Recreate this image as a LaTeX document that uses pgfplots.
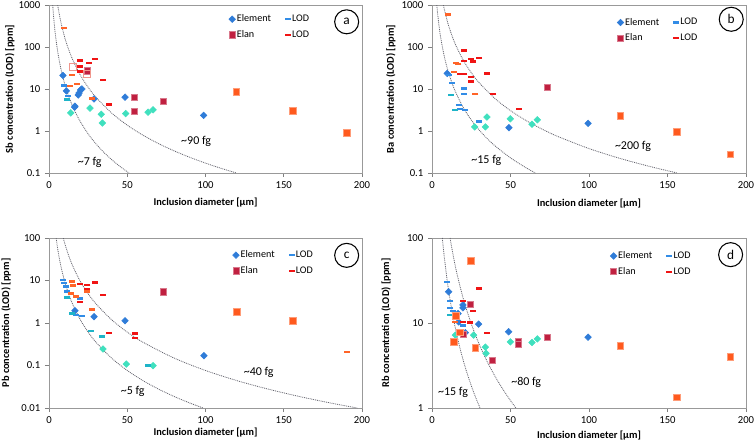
\documentclass[border=0pt]{standalone}
\usepackage{fontspec}
\setmainfont{Carlito}
\usepackage{pgfplots}
\pgfplotsset{compat=1.18}
\definecolor{elemblue}{RGB}{47,124,216}
\definecolor{elemcyan}{RGB}{64,224,190}
\definecolor{lodblue}{RGB}{50,140,230}
\definecolor{lodcyan}{RGB}{30,180,200}
\definecolor{elanred}{RGB}{192,32,64}
\definecolor{elanorange}{RGB}{255,90,30}
\definecolor{lodred}{RGB}{240,20,20}
\definecolor{lodorange}{RGB}{255,100,40}
\definecolor{pinkhollow}{RGB}{240,150,140}
\definecolor{curvegray}{RGB}{100,100,110}
\pgfplotsset{
 legend image code/.code={\draw[mark repeat=2,mark phase=2,#1] plot coordinates {(0cm,0cm) (0.15cm,0cm) (0.3cm,0cm)};},
 every axis/.append style={scale only axis, xmin=0, xmax=200,
   xtick={0,50,100,150,200}, xticklabels={0,50,100,150,200},
   axis line style={gray!80}, tick style={gray, thin},
   tick align=outside, tick pos=left, major tick length=3pt,
   ticklabel style={font=\fontsize{8}{9}\selectfont},
   label style={font=\bfseries\fontsize{7.8}{9}\selectfont},
   xlabel={Inclusion diameter [µm]},
   legend columns=2, legend cell align=left,
   legend style={anchor=north west, draw=none, fill=none, inner sep=0pt,
     nodes={inner sep=1pt}, font=\fontsize{7.6}{9}\selectfont, row sep=3pt,
     /tikz/every even column/.append style={column sep=9.5pt}},
 },
 curve/.style={forget plot, smooth, no marks, color=curvegray, line width=0.6pt, dash pattern=on 0.7pt off 0.7pt},
 elemS/.style={only marks, mark=square*, mark size=1.75pt, mark options={rotate=45}, color=elemblue},
 elemC/.style={only marks, mark=square*, mark size=1.75pt, mark options={rotate=45}, color=elemcyan, forget plot},
 lodB/.style={only marks, mark=-, mark size=2.2pt, line width=1.8pt, color=lodblue},
 lodC/.style={only marks, mark=-, mark size=2.2pt, line width=1.8pt, color=lodcyan, forget plot},
 elanS/.style={only marks, mark=square*, mark size=2.3pt, color=elanred, mark options={draw=elanred!60!white, line width=0.5pt}},
 elanO/.style={only marks, mark=square*, mark size=2.5pt, color=elanorange, mark options={draw=elanorange!60!white, line width=0.5pt}, forget plot},
 lodR/.style={only marks, mark=-, mark size=2.2pt, line width=1.8pt, color=lodred},
 lodO/.style={only marks, mark=-, mark size=2.2pt, line width=1.8pt, color=lodorange, forget plot},
 hollowP/.style={only marks, mark=square, mark size=2.6pt, color=pinkhollow, line width=0.8pt, forget plot},
}
\newcommand{\fgtext}{\fontsize{9}{10}\selectfont}
\newcommand{\circlab}[2]{\node[draw, circle, minimum size=18pt, inner sep=0pt, line width=0.8pt, font=\fontsize{10}{12}\selectfont] at (axis description cs:#1) {#2};}
\begin{document}
\begin{tikzpicture}
\path[use as bounding box] (0,0) rectangle (567pt,333pt);
% ---------------- panel a ----------------
\begin{axis}[ymode=log, yminorticks=false, at={(36.75pt,203.25pt)}, anchor=south west, width=234.75pt, height=126pt,
  ymin=0.1, ymax=1000, ytick={0.1,1,10,100,1000}, yticklabels={0.1,1,10,100,1000},
  ylabel={Sb concentration (LOD) [ppm]},
  ylabel style={at={(axis description cs:-0.125,0.5)}, anchor=center},
  xlabel style={at={(axis description cs:0.5,-0.173)}, anchor=center},
  legend style={at={(axis description cs:0.574,0.952)}}]
\addplot[curve] coordinates {(2.373,1000) (2.5,855.6) (3,495.1) (3.5,311.8) (4,208.9) (5,106.95) (6,61.89) (7,38.98) (8,26.11) (10,13.37) (12,7.737) (15,3.961) (18,2.292) (20,1.671) (25,0.8556) (30,0.4951) (35,0.3118) (40,0.2089) (45,0.1467) (51.13,0.1)};
\addplot[curve] coordinates {(5.559,1000) (6,795.8) (7,501.1) (8,335.7) (10,171.9) (12,99.47) (15,50.93) (20,21.49) (25,11.0) (30,6.366) (40,2.686) (50,1.375) (60,0.7958) (70,0.5011) (80,0.3357) (90,0.2358) (100,0.1719) (110,0.1291) (119.8,0.1)};
\addplot[elemS] coordinates {(8.9,21) (11.1,9.0) (16.4,3.7) (16.6,3.9) (18.7,7.2) (19.2,8.0) (20.2,9.5) (21,10) (28.8,5.8) (48.6,6.4) (98.8,2.35)};
\addlegendentry{Element}
\addplot[lodB] coordinates {(9.6,12) (12.3,6.8)};
\addlegendentry{LOD}
\addplot[elanS] coordinates {(24.5,27) (54.7,6.4) (54.7,3.0) (73,5.2)};
\addlegendentry{Elan}
\addplot[lodR] coordinates {(19.6,48) (25.6,41) (29.4,52) (19.6,34) (19.6,26) (34.5,16.4) (38.3,4.3)};
\addlegendentry{LOD}
\addplot[elemC] coordinates {(13.9,2.7) (26.2,3.5) (33.4,2.5) (34.1,1.55) (49,2.6) (63.3,2.8) (66.5,3.2)};
\addplot[lodC] coordinates {(11.3,5.6)};
\addplot[elanO] coordinates {(119.7,8.5) (155.7,3.05) (190.2,0.9)};
\addplot[hollowP] coordinates {(15.4,33) (24.5,22.5)};
\addplot[lodO] coordinates {(9.4,280) (14.5,21.5) (13.4,11.8) (17.7,13) (27.7,5.9)};
\node[font=\fgtext] at (axis cs:26,0.18) {\textasciitilde7 fg};
\node[font=\fgtext] at (axis cs:94,0.56) {\textasciitilde90 fg};
\circlab{0.951,0.90}{a}
\end{axis}
% ---------------- panel b ----------------
\begin{axis}[ymode=log, yminorticks=false, at={(324pt,203.25pt)}, anchor=south west, width=235.5pt, height=126pt,
  ymin=0.1, ymax=1000, ytick={0.1,1,10,100,1000}, yticklabels={0.1,1,10,100,1000},
  ylabel={Ba concentration (LOD) [ppm]},
  ylabel style={at={(axis description cs:-0.131,0.5)}, anchor=center},
  xlabel style={at={(axis description cs:0.5,-0.179)}, anchor=center},
  legend style={at={(axis description cs:0.589,0.932)}}]
\addplot[curve] coordinates {(3.061,1000) (3.5,668.2) (4,447.6) (5,229.2) (6,132.6) (8,55.95) (10,28.65) (12,16.58) (15,8.488) (20,3.581) (25,1.833) (30,1.061) (35,0.6682) (40,0.4476) (50,0.2292) (60,0.1326) (65.9,0.1)};
\addplot[curve] coordinates {(7.256,1000) (8,746.0) (10,382.0) (12,221.0) (15,113.2) (20,47.75) (25,24.45) (30,14.15) (40,5.968) (50,3.056) (60,1.768) (70,1.114) (80,0.746) (100,0.382) (120,0.2211) (140,0.1392) (156.3,0.1)};
\addplot[elemS] coordinates {(9.7,23.5) (49,1.2) (99.4,1.52)};
\addlegendentry{Element}
\addplot[lodB] coordinates {(10.8,21.5) (12.7,14) (20.2,10.2) (20.2,7.6) (17.4,4.2) (17.6,3.3) (21.2,3.2) (29.7,1.7)};
\addlegendentry{LOD}
\addplot[elanS] coordinates {(73.5,11.2)};
\addlegendentry{Elan}
\addplot[lodR] coordinates {(20.2,82) (20.2,47) (25,51) (26.3,45) (30.1,54) (18,22.8) (20.6,22.8) (35,23.6) (25,19.6) (24.6,15) (38.9,7.5) (55.2,3.3)};
\addlegendentry{LOD}
\addplot[elemC] coordinates {(27.2,1.25) (34,1.25) (35,2.15) (49.9,1.95) (63.7,1.45) (67.1,1.85)};
\addplot[lodC] coordinates {(12.1,7.3) (14.9,3.2)};
\addplot[elanO] coordinates {(120,2.3) (155.8,0.97) (190,0.28)};
\addplot[lodO] coordinates {(10.2,590) (15.3,41) (16.8,40) (14.2,25) (27.6,7.5)};
\node[font=\fgtext] at (axis cs:34.6,0.2) {\textasciitilde15 fg};
\node[font=\fgtext] at (axis cs:128,0.42) {\textasciitilde200 fg};
\circlab{0.953,0.915}{b}
\end{axis}
% ---------------- panel c ----------------
\begin{axis}[ymode=log, yminorticks=false, at={(36.75pt,27pt)}, anchor=south west, width=234.75pt, height=127.5pt,
  ymin=0.01, ymax=100, ytick={0.01,0.1,1,10,100}, yticklabels={0.01,0.1,1,10,100},
  ylabel={Pb concentration (LOD) [ppm]},
  ylabel style={at={(axis description cs:-0.137,0.5)}, anchor=center},
  xlabel style={at={(axis description cs:0.5,-0.147)}, anchor=center},
  legend style={at={(axis description cs:0.586,0.935)}}]
\addplot[curve] coordinates {(4.571,100) (5,76.39) (6,44.21) (7,27.84) (8,18.65) (10,9.549) (12,5.526) (15,2.829) (20,1.194) (25,0.6111) (30,0.3537) (40,0.1492) (50,0.07639) (60,0.04421) (70,0.02784) (80,0.01865) (90,0.0131) (98.5,0.01)};
\addplot[curve] coordinates {(9.142,100) (10,76.39) (12,44.21) (15,22.64) (20,9.549) (25,4.889) (30,2.829) (40,1.194) (50,0.6111) (60,0.3537) (80,0.1492) (100,0.07639) (120,0.04421) (140,0.02784) (160,0.01865) (180,0.0131) (197,0.01)};
\addplot[elemS] coordinates {(16.6,1.95) (28.8,1.41) (48.6,1.13) (99,0.17)};
\addlegendentry{Element}
\addplot[lodB] coordinates {(8.9,10.3) (9.6,8.6) (10.6,7.2) (11.7,5.5) (19.6,3.8) (17,1.54) (20.9,1.46)};
\addlegendentry{LOD}
\addplot[elanS] coordinates {(73,5.4)};
\addlegendentry{Elan}
\addplot[lodR] coordinates {(19.6,8.3) (24.5,7.8) (24.5,6.3) (29.4,8.9) (34.5,4.6) (19.6,3.1) (38.3,0.59) (54.7,0.57) (54.7,0.45)};
\addlegendentry{LOD}
\addplot[elemC] coordinates {(34.5,0.244) (49.4,0.108) (66.5,0.099)};
\addplot[lodC] coordinates {(11.7,4.0) (14.9,1.69) (26.6,0.65) (33.7,0.48) (63.5,0.099)};
\addplot[elanO] coordinates {(120,1.8) (156,1.11)};
\addplot[lodO] coordinates {(14.5,9.4) (15.3,7.6) (24.5,5.5) (13.9,5.0) (17.5,4.2) (27.3,2.1) (190.2,0.21)};
\node[font=\fgtext] at (axis cs:53.5,0.025) {\textasciitilde5 fg};
\node[font=\fgtext] at (axis cs:134,0.067) {\textasciitilde40 fg};
\circlab{0.951,0.898}{c}
\end{axis}
% ---------------- panel d ----------------
\begin{axis}[ymode=log, yminorticks=false, at={(324pt,27pt)}, anchor=south west, width=235.5pt, height=127.5pt,
  ymin=1, ymax=100, ytick={1,10,100}, yticklabels={1,10,100},
  ylabel={Rb concentration (LOD) [ppm]},
  ylabel style={at={(axis description cs:-0.1465,0.5)}, anchor=center},
  xlabel style={at={(axis description cs:0.5,-0.159)}, anchor=center},
  legend style={at={(axis description cs:0.567,0.93)}}]
\addplot[curve] coordinates {(6.593,100) (7,83.52) (8,55.95) (10,28.65) (12,16.58) (15,8.488) (18,4.912) (20,3.581) (22,2.690) (25,1.833) (28,1.305) (30.6,1)};
\addplot[curve] coordinates {(11.52,100) (12,88.42) (14,55.68) (16,37.30) (20,19.10) (25,9.778) (30,5.659) (35,3.564) (40,2.387) (45,1.677) (50,1.222) (53.46,1)};
\addplot[elemS] coordinates {(10.6,23.3) (19.7,16.3) (19.7,15.1) (16.6,12.9) (17,10.3) (29.7,9.7) (21.2,7.7) (48.8,7.9) (99.4,6.8)};
\addlegendentry{Element}
\addplot[lodB] coordinates {(9.6,30.6) (11.7,18.1) (11.7,15.1) (13.2,13.8) (19.5,9.3)};
\addlegendentry{LOD}
\addplot[elanS] coordinates {(24.4,16.6) (19.7,7.3) (38.4,3.6) (54.8,6.0) (54.8,5.6) (73.2,6.8)};
\addlegendentry{Elan}
\addplot[lodR] coordinates {(29.7,25.6) (19.7,18.1) (25.9,13.8) (19.5,10.3) (24.4,10.1) (35,7.6)};
\addlegendentry{LOD}
\addplot[elemC] coordinates {(14.9,7.2) (26.5,7.2) (34,5.2) (34.4,4.4) (49.9,6.0) (63.7,5.9) (67.1,6.5)};
\addplot[lodC] coordinates {(11.7,12.4)};
\addplot[elanO] coordinates {(24.8,54) (15.3,12.1) (17.6,7.8) (13.8,6.0) (27.6,5.1) (120,5.4) (156,1.34) (190,4.0)};
\addplot[lodO] coordinates {(14.4,10.3)};
\node[font=\fgtext] at (axis cs:13.4,1.54) {\textasciitilde15 fg};
\node[font=\fgtext] at (axis cs:60,2.02) {\textasciitilde80 fg};
\circlab{0.951,0.902}{d}
\end{axis}
\end{tikzpicture}
\end{document}
